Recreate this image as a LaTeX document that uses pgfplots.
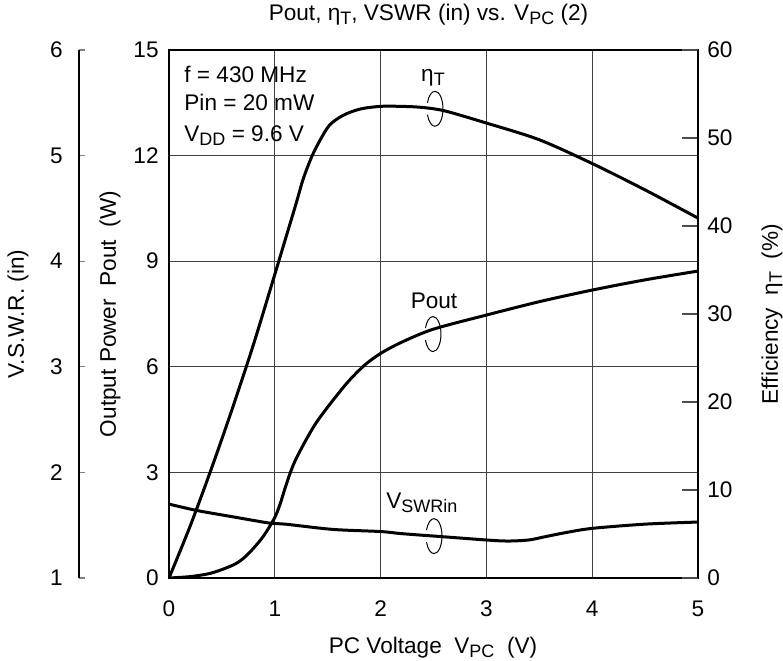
\documentclass[border=0pt]{standalone}
\usepackage{pgfplots}
\pgfplotsset{compat=1.18}
\usepackage{fontspec}
\setmainfont{Liberation Sans}

\pgfplotstableread{
V P
0 0
0.2 0.04
0.4 0.14
0.6 0.36
0.7 0.55
0.8 0.85
0.9 1.22
1.0 1.72
1.05 2.1
1.1 2.58
1.15 3.02
1.2 3.38
1.3 3.95
1.4 4.45
1.55 5.05
1.7 5.6
1.85 6.05
2.0 6.38
2.2 6.7
2.5 7.07
3.0 7.47
3.5 7.85
4.0 8.18
4.5 8.47
5.0 8.72
}\pout

\pgfplotstableread{
V eta
0 0
0.2 5.9
0.4 12.4
0.6 19.3
0.8 26.6
1.0 34.5
1.1 38.5
1.2 42.5
1.27 45.4
1.35 47.9
1.43 49.8
1.52 51.5
1.65 52.6
1.81 53.3
2.0 53.6
2.18 53.6
2.37 53.5
2.6 53.1
3.0 51.7
3.5 49.8
4.0 47.1
4.5 44.1
5.0 40.9
}\eff

\pgfplotstableread{
V S
0 1.70
0.26 1.64
0.6 1.58
0.95 1.52
1.1 1.51
1.55 1.46
2.0 1.44
2.2 1.42
2.6 1.39
3.0 1.36
3.2 1.35
3.4 1.36
3.55 1.39
3.75 1.43
4.0 1.47
4.5 1.51
5.0 1.53
}\vswr

\newcommand\fnt{\fontsize{11.3pt}{13pt}\selectfont}
\newcommand\sub[1]{\raisebox{-2pt}{\fontsize{9pt}{10pt}\selectfont #1}}

% loop marker round a curve (annotation only)
\newcommand\loopat[2]{%
  \draw[line width=0.5pt] (axis cs:#1,#2) ++(0,-8.75pt)
    arc[start angle=-90, end angle=90, x radius=4pt, y radius=8.75pt];
  \draw[line width=0.5pt] (axis cs:#1,#2) ++(0,8.75pt)
    arc[start angle=90, end angle=160, x radius=4pt, y radius=8.75pt];
  \draw[line width=0.5pt] (axis cs:#1,#2) ++(0,-8.75pt)
    arc[start angle=270, end angle=200, x radius=4pt, y radius=8.75pt];
}

\pgfplotsset{
  base/.style={
    width=264.5pt, height=264pt, scale only axis,
    xmin=0, xmax=5,
    /pgf/number format/assume math mode=true,
    tick label style={font=\fnt},
    label style={font=\fnt},
  },
  curve/.style={black, line width=1.5pt, smooth, tension=0.5, no marks},
}

\begin{document}
\fnt
\begin{tikzpicture}[font=\fnt]
\path[use as bounding box] (-84.5pt,-41pt) rectangle (307pt,289pt);

% main axis: output power
\begin{axis}[base,
  ymin=0, ymax=15,
  xtick={0,1,...,5}, ytick={0,3,...,15},
  tick pos=left, major tick length=0pt,
  grid=major,
  grid style={black!75, line width=0.6pt},
  axis line style={line width=0.9pt},
  xticklabel style={yshift=-7.45pt},
  yticklabel style={xshift=-1.24pt},
  title={Pout, η\sub{T}, VSWR (in) vs. V\sub{PC} (2)},
  every axis title/.style={at={(axis description cs:0.4905,1.055)}, anchor=base, font=\fnt},
  xlabel={PC Voltage\ \ V\sub{PC}\ \ (V)},
  every axis x label/.style={at={(axis description cs:0.499,-0.143)}, anchor=base, font=\fnt},
  ylabel={Output Power\ \ Pout\ \ (W)},
  every axis y label/.style={at={(axis description cs:-0.1115,0.5)}, rotate=90, anchor=center, font=\fnt},
]
\addplot[curve] table[x=V, y=P] {\pout};

\node[anchor=base west, inner sep=0pt] at (axis cs:0.142,14.09) {f = 430 MHz};
\node[anchor=base west, inner sep=0pt] at (axis cs:0.142,13.27) {Pin = 20 mW};
\node[anchor=base west, inner sep=0pt] at (axis cs:0.142,12.41) {V\sub{DD} = 9.6 V};

\node at (axis cs:2.495,14.2) {η\sub{T}};
\node at (axis cs:2.505,7.87) {Pout};
\node at (axis cs:2.39,2.13) {V\sub{SWRin}};

\loopat{2.514}{13.33}
\loopat{2.495}{6.93}
\loopat{2.505}{1.19}
\end{axis}

% right axis: efficiency
\begin{axis}[base,
  ymin=0, ymax=60,
  ytick={0,10,...,60},
  axis y line*=right, hide x axis,
  y axis line style={-, line width=0.9pt},
  tick align=inside, major tick length=8pt,
  ytick style={black!70, line width=0.6pt},
  yticklabel style={xshift=0.74pt},
  ylabel={Efficiency\ \ η\sub{T}\ \ (\%)},
  every axis y label/.style={at={(axis description cs:1.14,0.5)}, rotate=90, anchor=center, font=\fnt},
]
\addplot[curve] table[x=V, y=eta] {\eff};
\end{axis}

% hidden axis for VSWR curve
\begin{axis}[base, ymin=1, ymax=6, hide axis]
\addplot[curve] table[x=V, y=S] {\vswr};
\end{axis}

% separate VSWR scale
\begin{axis}[
  at={(-45pt,0pt)}, anchor=south west,
  width=10pt, height=264pt, scale only axis,
  xmin=0, xmax=1, ymin=1, ymax=6,
  ytick={1,...,6},
  /pgf/number format/assume math mode=true,
  tick label style={font=\fnt},
  axis y line*=left, hide x axis,
  y axis line style={-, line width=0.7pt},
  tick align=inside, major tick length=3pt,
  ytick style={line width=0.6pt},
  yticklabel style={xshift=-4.24pt},
  ylabel={V.S.W.R. (in)},
  every axis y label/.style={at={(axis description cs:0,0.5)}, xshift=-30.5pt, rotate=90, anchor=center, font=\fnt},
]
\end{axis}
\end{tikzpicture}
\end{document}
